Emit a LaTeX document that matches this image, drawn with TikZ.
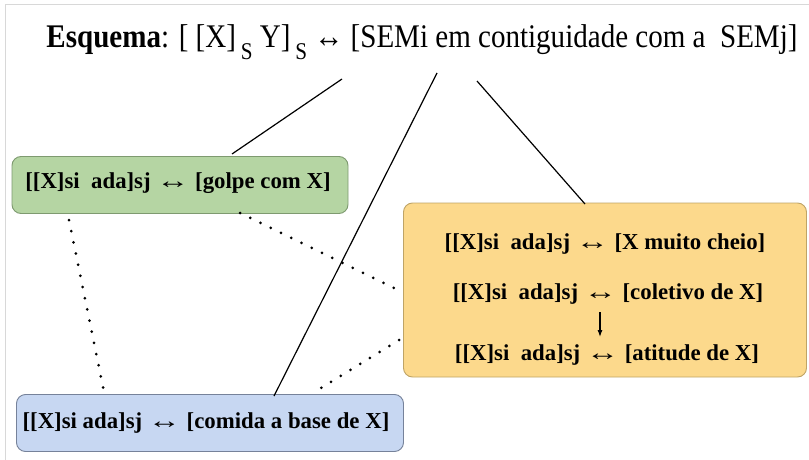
\documentclass[tikz,border=0pt]{standalone}
\usepackage{fontspec}
\setmainfont{Liberation Serif}
\usetikzlibrary{arrows.meta}
\definecolor{gfill}{HTML}{B5D5A3}
\definecolor{gline}{HTML}{7E9A70}
\definecolor{yfill}{HTML}{FCD98C}
\definecolor{yline}{HTML}{BFA466}
\definecolor{bfill}{HTML}{C7D7F2}
\definecolor{bline}{HTML}{76829A}
\definecolor{frameg}{HTML}{D8D8D8}
\newcommand{\subS}{\raisebox{-0.36em}{\fontsize{24}{24}\selectfont S}}
\newcommand{\harr}{\scalebox{1.45}[1]{↔}}
\begin{document}
\begin{tikzpicture}[x=1pt,y=-1pt,
  box/.style={draw, rounded corners=9pt, line width=0.9pt, inner sep=0pt},
  btext/.style={font=\fontsize{22.8}{27}\selectfont\bfseries, inner sep=0pt},
  link/.style={line width=1.2pt},
  dotlink/.style={line width=3pt, line cap=round, dash pattern=on 0pt off 11.4pt}]
\useasboundingbox (0,0) rectangle (809,460);
\draw[frameg, line width=1pt] (5,460) -- (5,5) -- (809,5);
% boxes
\node[box, fill=gfill, draw=gline, minimum width=336pt, minimum height=57pt] (green) at (180,185) {};
\node[box, fill=yfill, draw=yline, minimum width=403pt, minimum height=174pt] (yellow) at (605,290) {};
\node[box, fill=bfill, draw=bline, minimum width=387pt, minimum height=57pt] (blue) at (210,423) {};
% title
\node[inner sep=0pt, font=\fontsize{33}{38}\selectfont] (title) at (422,42)
  {\scalebox{0.88}[1]{\textbf{Esquema}: [ [X]\,\subS\ Y]\,\subS\ ↔ [SEMi em contiguidade com a\ \ SEMj]}};
% box texts
\node[btext] (gt) at (178,183) {[[X]si\ \ ada]sj \harr\ [golpe com X]};
\node[btext] (y1) at (605,244) {[[X]si\ \ ada]sj \harr\ [X muito cheio]};
\node[btext] (y2) at (608,294) {[[X]si\ \ ada]sj \harr\ [coletivo de X]};
\node[btext] (y3) at (607,355) {[[X]si\ \ ada]sj \harr\ [atitude de X]};
\node[btext] (bt) at (206,423) {[[X]si ada]sj \harr\ [comida a base de X]};
% connector anchors
\coordinate (t1) at (342,79);
\coordinate (t2) at (437,73);
\coordinate (t3) at (477,81);
\coordinate (g1) at (232,154);
\coordinate (b1) at (274,396);
\coordinate (yt) at (585,204);
\coordinate (gb1) at (69,220);
\coordinate (bb1) at (104,392);
\coordinate (gb2) at (240,213);
\coordinate (yl1) at (398,290);
\coordinate (yl2) at (399,340);
\coordinate (bb2) at (313,393);
\coordinate (a1) at (600,312);
\coordinate (a2) at (600,337);
\draw[link] (t1) -- (g1);
\draw[link] (t2) -- (b1);
\draw[link] (t3) -- (yt);
\draw[dotlink] (gb1) -- (bb1);
\draw[dotlink] (gb2) -- (yl1);
\draw[dotlink] (yl2) -- (bb2);
\draw[line width=1.1pt, -{Latex[length=7pt,width=5pt]}] (a1) -- (a2);
\end{tikzpicture}
\end{document}
